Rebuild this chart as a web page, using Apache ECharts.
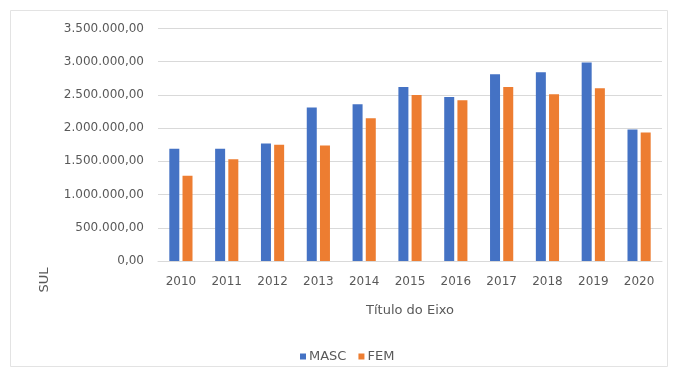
<!DOCTYPE html>
<html>
<head>
<meta charset="utf-8">
<script src="https://cdn.jsdelivr.net/npm/echarts@6/dist/echarts.min.js"></script>
<style>html,body{margin:0;padding:0;background:#fff}#c{width:674px;height:374px}</style>
</head>
<body>
<div id="c"></div>
<script>
var categories = ['2010','2011','2012','2013','2014','2015','2016','2017','2018','2019','2020'];
var masc = [1690000, 1690000, 1770000, 2310000, 2360000, 2620000, 2470000, 2810000, 2840000, 2990000, 1980000];
var fem  = [1285000, 1530000, 1750000, 1740000, 2150000, 2500000, 2420000, 2620000, 2510000, 2600000, 1935000];
var seriesNames = ['MASC', 'FEM'];
var yTicks = [0, 500000, 1000000, 1500000, 2000000, 2500000, 3000000, 3500000];

function fmt(v) {
  var s = Math.round(v).toString().replace(/\B(?=(\d{3})+(?!\d))/g, '.');
  return s + ',00';
}

var chart = echarts.init(document.getElementById('c'), null, {renderer: 'canvas'});
var font = 'DejaVu Sans, sans-serif';
chart.setOption({
  animation: false,
  backgroundColor: '#ffffff',
  grid: {left: 158, right: 12, top: 28.5, bottom: 113, containLabel: false},
  legend: {
    data: seriesNames,
    top: 345,
    left: 295,
    itemWidth: 6, itemHeight: 6, itemGap: 12,
    icon: 'rect',
    textStyle: {color: '#595959', fontSize: 13, fontFamily: font, padding: [0,0,0,-2]}
  },
  xAxis: {
    type: 'category',
    data: categories,
    axisLine: {show: true, lineStyle: {color: '#d9d9d9'}},
    axisTick: {show: false},
    axisLabel: {color: '#595959', fontSize: 12, fontFamily: font, margin: 15},
    name: 'Título do Eixo',
    nameLocation: 'middle',
    nameGap: 43,
    nameTextStyle: {color: '#595959', fontSize: 13, fontFamily: font}
  },
  yAxis: {
    type: 'value',
    min: yTicks[0], max: yTicks[yTicks.length - 1], interval: yTicks[1] - yTicks[0],
    axisLine: {show: false},
    axisTick: {show: false},
    splitLine: {lineStyle: {color: '#d9d9d9'}},
    axisLabel: {color: '#595959', fontSize: 12, fontFamily: font, margin: 14, formatter: fmt}
  },
  series: [
    {name: seriesNames[0], type: 'bar', data: masc, barWidth: 10, barGap: '32%', itemStyle: {color: '#4472C4'}},
    {name: seriesNames[1], type: 'bar', data: fem, barWidth: 10, itemStyle: {color: '#ED7D31'}}
  ],
  graphic: [
    {type: 'rect', shape: {x: 10.5, y: 10.5, width: 657, height: 356}, style: {fill: 'none', stroke: '#e3e3e3', lineWidth: 1}, silent: true},
    {type: 'text', x: 45, y: 280, rotation: Math.PI / 2,
     style: {text: 'SUL', fill: '#595959', fontSize: 13, fontFamily: font, textAlign: 'center', textVerticalAlign: 'middle'}}
  ]
});
</script>
</body>
</html>
